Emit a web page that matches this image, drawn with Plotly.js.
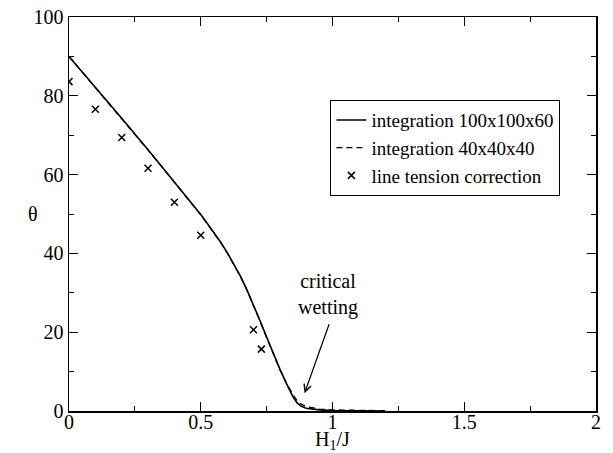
<!DOCTYPE html>
<html>
<head>
<meta charset="utf-8">
<script src="https://cdn.plot.ly/plotly-3.0.1.min.js"></script>
<style>html,body{margin:0;padding:0;background:#fff;}#plot{width:613px;height:453px;}</style>
</head>
<body>
<div id="plot"></div>
<script>
// Solid curve: integration 100x100x60
const xFine = [0, 0.1, 0.2, 0.3, 0.4, 0.45, 0.475, 0.5, 0.525, 0.55, 0.575, 0.6, 0.625, 0.65, 0.675, 0.7, 0.725, 0.75, 0.775, 0.8, 0.825, 0.85, 0.865, 0.88, 0.9, 0.95, 1.0, 1.1, 1.2];
const yFine = [90, 82.2, 74.3, 66.3, 58.2, 54.1, 52.0, 49.85, 47.6, 45.3, 42.9, 40.25, 37.4, 34.3, 30.8, 27.0, 22.9, 18.8, 14.7, 10.7, 7.0, 3.6, 2.1, 1.25, 0.7, 0.28, 0.1, 0.02, 0];
// Dashed curve: integration 40x40x40
const xCoarse = [0, 0.1, 0.2, 0.3, 0.4, 0.45, 0.475, 0.5, 0.525, 0.55, 0.575, 0.6, 0.625, 0.65, 0.675, 0.7, 0.725, 0.75, 0.775, 0.8, 0.825, 0.85, 0.865, 0.88, 0.9, 0.95, 1.0, 1.1, 1.2];
const yCoarse = [90, 82.1, 74.2, 66.2, 58.1, 54.0, 51.9, 49.75, 47.5, 45.2, 42.8, 40.15, 37.3, 34.2, 30.7, 26.9, 22.8, 18.6, 14.5, 10.5, 7.1, 4.1, 2.7, 1.8, 1.1, 0.5, 0.3, 0.12, 0.05];
// Crosses: line tension correction
const xLT = [0, 0.1, 0.2, 0.3, 0.4, 0.5, 0.7, 0.73];
const yLT = [83.6, 76.6, 69.4, 61.6, 53.0, 44.6, 20.6, 15.7];

const font = 'Liberation Serif, Times New Roman, serif';

const traces = [
  {x: xFine, y: yFine, type: 'scatter', mode: 'lines', name: 'integration 100x100x60',
   line: {color: '#000', width: 1.6}},
  {x: xCoarse, y: yCoarse, type: 'scatter', mode: 'lines', name: 'integration 40x40x40',
   line: {color: '#000', width: 1.3, dash: '6px,4px'}},
  {x: xLT, y: yLT, type: 'scatter', mode: 'markers', name: 'line tension correction',
   marker: {symbol: 'x-thin-open', size: 7, color: '#000', line: {color: '#000', width: 1.5}}}
];

const layout = {
  width: 613, height: 453,
  margin: {l: 69, r: 17, t: 17, b: 42},
  paper_bgcolor: '#fff', plot_bgcolor: '#fff',
  font: {family: font, color: '#000', size: 20},
  showlegend: true,
  legend: {x: 0.496, y: 0.789, xanchor: 'left', yanchor: 'top',
           bgcolor: '#fff', bordercolor: '#000', borderwidth: 1,
           font: {family: font, size: 19, color: '#000'}, tracegroupgap: 0, itemwidth: 30},
  xaxis: {range: [0, 2], tickvals: [0, 0.5, 1, 1.5, 2], ticktext: ['0', '0.5', '1', '1.5', '2'],
          ticks: 'inside', ticklen: 9, tickwidth: 1, tickcolor: '#000',
          minor: {tickvals: [0.25, 0.75, 1.25, 1.75], ticks: 'inside', ticklen: 5, tickcolor: '#000'},
          showline: true, linecolor: '#000', linewidth: 1.5, mirror: 'ticks',
          showgrid: false, zeroline: false, ticklabelstandoff: -8,
          tickfont: {family: font, size: 20}},
  yaxis: {range: [0, 100], tickvals: [0, 20, 40, 60, 80, 100],
          ticks: 'inside', ticklen: 9, tickwidth: 1, tickcolor: '#000',
          minor: {tickvals: [10, 30, 50, 70, 90], ticks: 'inside', ticklen: 5, tickcolor: '#000'},
          showline: true, linecolor: '#000', linewidth: 1.5, mirror: 'ticks',
          showgrid: false, zeroline: false,
          tickfont: {family: font, size: 20}},
  annotations: [
    {x: 0.5, y: -0.076, xref: 'paper', yref: 'paper', text: 'H<sub>1</sub>/J', showarrow: false,
     xanchor: 'center', yanchor: 'middle', font: {family: font, size: 20, color: '#000'}},
    {x: -0.068, y: 0.5, xref: 'paper', yref: 'paper', text: 'θ', showarrow: false,
     xanchor: 'center', yanchor: 'middle', font: {family: font, size: 20, color: '#000'}},
    {x: 0.982, y: 29.5, xref: 'x', yref: 'y', text: 'critical<br>wetting', showarrow: false,
     font: {family: font, size: 20, color: '#000'}, align: 'center'},
    {x: 0.894, y: 4.5, ax: 0.989, ay: 22.4, axref: 'x', ayref: 'y', xref: 'x', yref: 'y',
     text: '', showarrow: true, arrowhead: 5, arrowsize: 1.2, arrowwidth: 1.2, arrowcolor: '#000'}
  ]
};

Plotly.newPlot('plot', traces, layout, {displayModeBar: false, staticPlot: true});
</script>
</body>
</html>
